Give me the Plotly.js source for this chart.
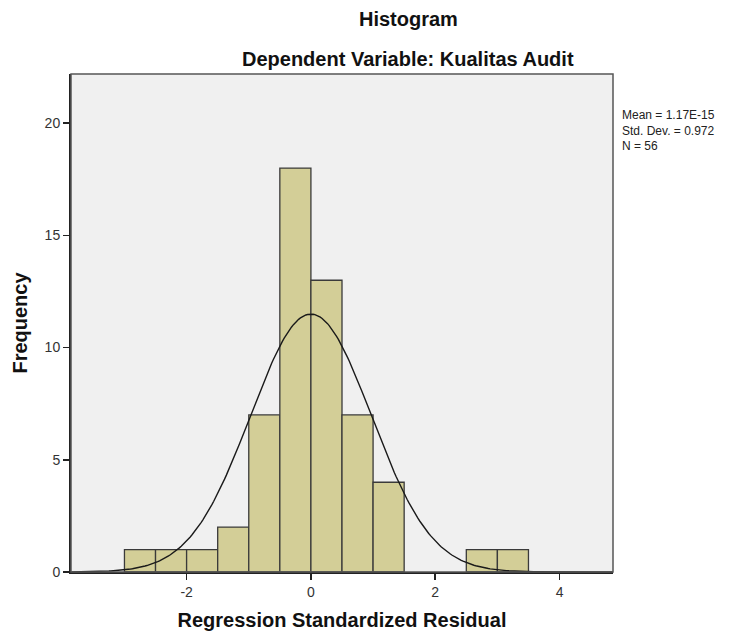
<!DOCTYPE html>
<html>
<head>
<meta charset="utf-8">
<script src="https://cdn.plot.ly/plotly-3.0.1.min.js"></script>
<style>html,body{margin:0;padding:0;background:#fff;}#chart{width:735px;height:635px;}</style>
</head>
<body>
<div id="chart"></div>
<script>
// Histogram bins (left edges), width 0.5, and counts
var binStarts = [-3.0, -2.5, -2.0, -1.5, -1.0, -0.5, 0.0, 0.5, 1.0, 2.5, 3.0];
var binCounts = [1, 1, 1, 2, 7, 18, 13, 7, 4, 1, 1];
var binWidth = 0.5;
// Statistics shown in the chart
var statMean = 1.17e-15;
var statSD = 0.972;
var statN = 56;
var statLabels = ["Mean = 1.17E-15", "Std. Dev. = 0.972", "N = 56"];
var xTicks = [-2, 0, 2, 4];
var yTicks = [0, 5, 10, 15, 20];

var xMin = -3.86, xMax = 4.86;

var barCenters = binStarts.map(function(s){ return s + binWidth/2; });

// normal curve fitted from the stated mean / sd / N
var cx = [], cy = [];
var steps = 300;
for (var i = 0; i <= steps; i++) {
  var x = xMin + (xMax - xMin) * i / steps;
  var z = (x - statMean) / statSD;
  cx.push(x);
  cy.push(statN * binWidth * Math.exp(-0.5 * z * z) / (statSD * Math.sqrt(2 * Math.PI)));
}

var traces = [
  {
    type: 'bar', x: barCenters, y: binCounts, width: binWidth,
    marker: {color: '#d3ce97', line: {color: '#3a3a3a', width: 1.3}},
    hoverinfo: 'x+y', showlegend: false
  },
  {
    type: 'scatter', mode: 'lines', x: cx, y: cy,
    line: {color: '#1a1a1a', width: 1.4}, hoverinfo: 'skip', showlegend: false
  }
];

var f = 'Liberation Sans, Arial, sans-serif';
var layout = {
  width: 735, height: 635,
  margin: {l: 71, r: 122, t: 74, b: 63, pad: 0},
  paper_bgcolor: '#ffffff', plot_bgcolor: '#f0f0f0',
  font: {family: f, size: 14, color: '#333'},
  bargap: 0,
  xaxis: {
    range: [xMin, xMax], tickvals: xTicks, ticktext: xTicks.map(String),
    ticks: 'outside', ticklen: 6, tickwidth: 1.5, tickcolor: '#222',
    showline: true, linecolor: '#222', linewidth: 2,
    showgrid: false, zeroline: false,
    tickfont: {family: f, size: 14, color: '#333'},
    title: {text: 'Regression Standardized Residual', font: {family: f, size: 20, color: '#111', weight: 'bold'}, standoff: 14}
  },
  yaxis: {
    range: [0, 22.19], tickvals: yTicks, ticktext: yTicks.map(String),
    ticks: 'outside', ticklen: 6, tickwidth: 1.5, tickcolor: '#222',
    showline: true, linecolor: '#222', linewidth: 2,
    showgrid: false, zeroline: false,
    tickfont: {family: f, size: 14, color: '#333'},
    title: {text: 'Frequency', font: {family: f, size: 20, color: '#111', weight: 'bold'}, standoff: 12}
  },
  shapes: [
    {type: 'rect', xref: 'paper', yref: 'paper', x0: 0, x1: 1, y0: 0, y1: 1,
     line: {color: '#555', width: 1.5}, fillcolor: 'rgba(0,0,0,0)', layer: 'above'}
  ],
  annotations: [
    {text: 'Histogram', xref: 'paper', yref: 'paper', x: 0.622, y: 1, yshift: 55,
     xanchor: 'center', yanchor: 'middle', showarrow: false,
     font: {family: f, size: 20, color: '#111', weight: 'bold'}},
    {text: 'Dependent Variable: Kualitas Audit', xref: 'paper', yref: 'paper', x: 0.622, y: 1, yshift: 15,
     xanchor: 'center', yanchor: 'middle', showarrow: false,
     font: {family: f, size: 20, color: '#111', weight: 'bold'}},
    {text: statLabels.join('<br>'), xref: 'paper', yref: 'paper', x: 1, xshift: 7, y: 0.935,
     xanchor: 'left', yanchor: 'top', align: 'left', showarrow: false,
     font: {family: f, size: 12, color: '#222'}}
  ]
};

Plotly.newPlot('chart', traces, layout, {displayModeBar: false, staticPlot: true});
</script>
</body>
</html>
